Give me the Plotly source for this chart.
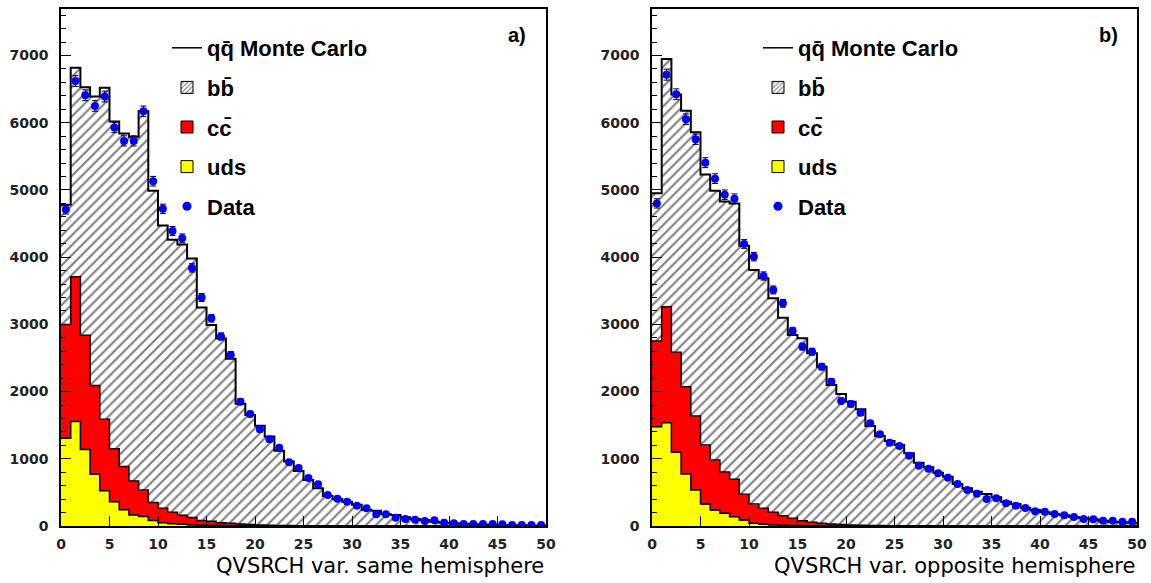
import numpy as np
import plotly.graph_objects as go

# ---------------- data ----------------
bin_edges = list(range(0, 51))          # 50 bins of width 1 on QVSRCH
x_tick_vals = [0, 5, 10, 15, 20, 25, 30, 35, 40, 45, 50]
y_tick_vals = [0, 1000, 2000, 3000, 4000, 5000, 6000, 7000]

# a) same hemisphere
same_total = [4780, 6820, 6530, 6390, 6520, 6020, 5840, 5790, 6170, 4990,
              4470, 4260, 4190, 3980, 3250, 2990, 2790, 2490, 1820, 1650,
              1490, 1330, 1120, 960, 820, 685, 560, 445, 400, 360,
              315, 240, 228, 175, 165, 130, 105, 90, 65, 50,
              40, 32, 27, 22, 18, 15, 12, 10, 8, 6]
same_cc_uds = [3000, 3710, 2840, 2090, 1590, 1150, 885, 670, 535, 350,
               265, 205, 160, 125, 80, 70, 50, 40, 30, 22,
               16, 12, 9, 7, 5, 4, 3, 2, 2, 1,
               1, 1, 1, 0, 0, 0, 0, 0, 0, 0,
               0, 0, 0, 0, 0, 0, 0, 0, 0, 0]
same_uds = [1305, 1555, 1140, 770, 525, 360, 240, 165, 140, 80,
            50, 35, 25, 15, 10, 8, 6, 4, 3, 2,
            1, 1, 0, 0, 0, 0, 0, 0, 0, 0,
            0, 0, 0, 0, 0, 0, 0, 0, 0, 0,
            0, 0, 0, 0, 0, 0, 0, 0, 0, 0]
same_data = [4710, 6620, 6410, 6250, 6390, 5930, 5730, 5730, 6170, 5130,
             4720, 4390, 4280, 3840, 3400, 3090, 2820, 2545, 1850, 1665,
             1440, 1290, 1165, 948, 862, 714, 620, 460, 407, 362,
             303, 263, 175, 174, 124, 104, 94, 74, 84, 50,
             40, 30, 30, 30, 30, 25, 15, 15, 15, 15]

# b) opposite hemisphere
opp_total = [4950, 6950, 6420, 6180, 5860, 5230, 4990, 4830, 4800, 4170,
             3810, 3686, 3388, 3100, 2842, 2793, 2570, 2371, 2098, 1964,
             1850, 1736, 1488, 1340, 1265, 1205, 1081, 942, 873, 794,
             734, 625, 561, 511, 476, 427, 362, 327, 272, 238,
             204, 179, 159, 134, 114, 99, 79, 64, 55, 50]
opp_cc_uds = [2753, 3264, 2585, 2073, 1637, 1205, 982, 804, 695, 472,
              327, 263, 203, 154, 114, 79, 55, 40, 30, 22,
              16, 12, 9, 7, 5, 4, 3, 2, 2, 1,
              1, 1, 1, 0, 0, 0, 0, 0, 0, 0,
              0, 0, 0, 0, 0, 0, 0, 0, 0, 0]
opp_uds = [1478, 1538, 1096, 774, 536, 327, 238, 188, 139, 89,
           40, 25, 15, 10, 6, 4, 3, 2, 1, 1,
           0, 0, 0, 0, 0, 0, 0, 0, 0, 0,
           0, 0, 0, 0, 0, 0, 0, 0, 0, 0,
           0, 0, 0, 0, 0, 0, 0, 0, 0, 0]
opp_data = [4800, 6716, 6424, 6052, 5754, 5406, 5168, 4930, 4871, 4196,
            4008, 3720, 3512, 3313, 2902, 2669, 2594, 2371, 2148, 1860,
            1815, 1686, 1530, 1366, 1240, 1190, 1046, 897, 853, 784,
            719, 625, 536, 481, 402, 412, 338, 302, 268, 218,
            213, 179, 159, 134, 104, 99, 79, 79, 64, 64]

x_titles = ["QVSRCH var. same hemisphere", "QVSRCH var. opposite hemisphere"]
panel_labels = ["a)", "b)"]
legend_names = ["q\u0071\u0304 Monte Carlo", "b\u0062\u0304", "c\u0063\u0304", "uds", "Data"]

# ---------------- figure ----------------
W, H = 1151, 583
edges = np.array(bin_edges, dtype=float)
centers = (edges[:-1] + edges[1:]) / 2
widths = np.diff(edges)

fig = go.Figure()

panels = [
    (same_total, same_cc_uds, same_uds, same_data, "x", "y", "legend"),
    (opp_total, opp_cc_uds, opp_uds, opp_data, "x2", "y2", "legend2"),
]

def steps(vals):
    return list(vals) + [vals[-1]]

for (tot, ccu, uds, dat, xa, ya, lg) in panels:
    # hatched b-bbar region (up to total)
    fig.add_trace(go.Bar(x=centers, y=tot, width=widths, xaxis=xa, yaxis=ya,
                         marker=dict(color="white", line=dict(width=0),
                                     pattern=dict(shape="/", fgcolor="black", bgcolor="white",
                                                  size=7, solidity=0.3)),
                         showlegend=False, hoverinfo="skip"))
    fig.add_trace(go.Bar(x=centers, y=ccu, width=widths, xaxis=xa, yaxis=ya,
                         marker=dict(color="#ff0000", line=dict(width=0)),
                         showlegend=False, hoverinfo="skip"))
    fig.add_trace(go.Bar(x=centers, y=uds, width=widths, xaxis=xa, yaxis=ya,
                         marker=dict(color="#ffff00", line=dict(width=0)),
                         showlegend=False, hoverinfo="skip"))
    # step outlines
    for vals, lw in ((uds, 1.5), (ccu, 1.5), (tot, 2)):
        fig.add_trace(go.Scatter(x=edges, y=steps(vals), xaxis=xa, yaxis=ya, mode="lines",
                                 line=dict(shape="hv", color="black", width=lw),
                                 showlegend=False, hoverinfo="skip"))
    # data points
    fig.add_trace(go.Scatter(x=centers, y=dat, xaxis=xa, yaxis=ya, mode="markers",
                             marker=dict(color="#0000ff", size=8),
                             error_y=dict(type="sqrt", color="black", thickness=1, width=3),
                             showlegend=False, hoverinfo="skip"))
    # legend entries
    fig.add_trace(go.Scatter(x=[None], y=[None], xaxis=xa, yaxis=ya, mode="lines",
                             line=dict(color="black", width=1.5), name=legend_names[0],
                             legend=lg, legendgroup=lg + "a", legendrank=1))
    fig.add_trace(go.Bar(x=[None], y=[None], xaxis=xa, yaxis=ya, name=legend_names[1],
                         marker=dict(color="white", line=dict(width=1, color="black"),
                                     pattern=dict(shape="/", fgcolor="black", bgcolor="white",
                                                  size=4, solidity=0.35)),
                         legend=lg, legendgroup=lg + "b", legendrank=2))
    fig.add_trace(go.Bar(x=[None], y=[None], xaxis=xa, yaxis=ya, name=legend_names[2],
                         marker=dict(color="#ff0000", line=dict(width=1, color="black")),
                         legend=lg, legendgroup=lg + "c", legendrank=3))
    fig.add_trace(go.Bar(x=[None], y=[None], xaxis=xa, yaxis=ya, name=legend_names[3],
                         marker=dict(color="#ffff00", line=dict(width=1, color="black")),
                         legend=lg, legendgroup=lg + "d", legendrank=4))
    fig.add_trace(go.Scatter(x=[None], y=[None], xaxis=xa, yaxis=ya, mode="markers",
                             marker=dict(color="#0000ff", size=9), name=legend_names[4],
                             legend=lg, legendgroup=lg + "e", legendrank=5))

tick_font = dict(family="DejaVu Sans", size=14, color="#222222", weight="bold")
ydom = [(H - 526) / H, (H - 8.5) / H]
xdoms = [[61 / W, 546 / W], [652 / W, 1137 / W]]

common_x = dict(range=[0, 50], tickvals=x_tick_vals, ticks="inside", ticklen=10, tickwidth=1,
                tickcolor="black", showline=True, linecolor="black", linewidth=1.5, mirror=True,
                showgrid=False, zeroline=False, tickfont=tick_font, ticklabelstandoff=4,
                automargin=False)
common_y = dict(range=[0, 7700], tickvals=y_tick_vals, ticks="inside", ticklen=10, tickwidth=1,
                tickcolor="black", showline=True, linecolor="black", linewidth=1.5, mirror=True,
                showgrid=False, zeroline=False, tickfont=tick_font, ticklabelstandoff=8,
                minor=dict(dtick=200, ticks="inside", ticklen=5, tickcolor="black", showgrid=False),
                automargin=False)

legend_common = dict(font=dict(family="Liberation Sans", size=22, color="black", weight="bold"),
                     bgcolor="rgba(0,0,0,0)", borderwidth=0, tracegroupgap=8,
                     xanchor="left", yanchor="top", itemwidth=30)

fig.update_layout(
    width=W, height=H, margin=dict(l=0, r=0, t=0, b=0),
    paper_bgcolor="white", plot_bgcolor="white",
    barmode="overlay", bargap=0,
    xaxis=dict(domain=xdoms[0], anchor="y", **common_x),
    yaxis=dict(domain=ydom, anchor="x", **common_y),
    xaxis2=dict(domain=xdoms[1], anchor="y2", **common_x),
    yaxis2=dict(domain=ydom, anchor="x2", **common_y),
    legend=dict(x=167 / W, y=1 - 27 / H, **legend_common),
    legend2=dict(x=758 / W, y=1 - 27 / H, **legend_common),
    showlegend=True,
)

annotations = []
for i, (xr, lab, title) in enumerate(zip(["x domain", "x2 domain"], panel_labels, x_titles)):
    annotations.append(dict(xref=xr, yref="paper", x=1.0, y=(H - 566) / H, xanchor="right",
                            yanchor="middle", text=title, showarrow=False,
                            font=dict(family="DejaVu Sans", size=21, color="black")))
    annotations.append(dict(xref=xr, yref="paper", x=0.962 if i == 0 else 0.965,
                            y=(H - 35) / H, xanchor="right", yanchor="middle", text=lab,
                            showarrow=False,
                            font=dict(family="Liberation Sans", size=20, color="black",
                                      weight="bold")))
fig.update_layout(annotations=annotations)

fig.write_html("out.html")
